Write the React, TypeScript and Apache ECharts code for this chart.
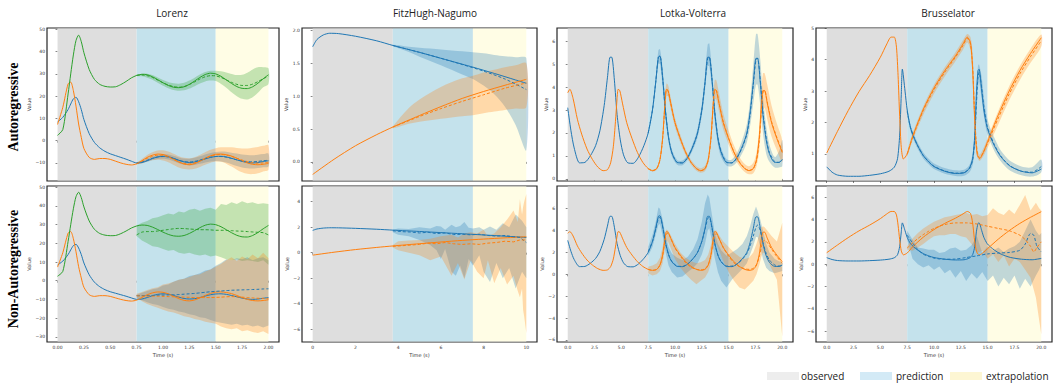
import React, { useEffect, useRef } from "react";
import * as echarts from "echarts";

const BLUE = "#1f77b4";
const ORANGE = "#ff7f0e";
const GREEN = "#2ca02c";
const BAND_BLUE = "rgba(31,119,180,0.28)";
const BAND_ORANGE = "rgba(255,127,14,0.28)";
const BAND_GREEN = "rgba(44,160,44,0.28)";
const REGION_FILL = ["#dedede", "#c4e2ec", "#fffde5"];
const LEGEND_FILL = ["#ededed", "#d3eaf6", "#fdf6d3"];
const LEGEND_TEXT = ["observed", "prediction", "extrapolation"];
const TITLES = ["Lorenz", "FitzHugh-Nagumo", "Lotka-Volterra", "Brusselator"];
const ROW_LABELS = ["Autoregressive", "Non-Autoregressive"];

// ---------------- Lorenz ----------------
const lorRegions = [0, 0.75, 1.5, 2.0];
const lorXTicks = [0, 0.25, 0.5, 0.75, 1.0, 1.25, 1.5, 1.75, 2.0];
const lorTopYTicks = [-10, 0, 10, 20, 30, 40, 50];
const lorBotYTicks = [-30, -20, -10, 0, 10, 20, 30, 40, 50];
const lorT = [0, 0.05, 0.1, 0.125, 0.15, 0.175, 0.2, 0.225, 0.25, 0.3, 0.35, 0.4, 0.45, 0.5, 0.55, 0.6, 0.65, 0.7, 0.75, 0.8, 0.85, 0.9, 0.95, 1.0, 1.05, 1.1, 1.15, 1.2, 1.25, 1.3, 1.35, 1.4, 1.45, 1.5, 1.55, 1.6, 1.65, 1.7, 1.75, 1.8, 1.85, 1.9, 1.95, 2.0];
const lorX = [8.4, 10.5, 14, 16.5, 18.8, 19.5, 17.5, 14, 9.5, 3.2, -0.8, -3.2, -4.8, -5.9, -6.7, -7.5, -8.3, -9.2, -10.0, -9.8, -9.0, -8.0, -7.3, -7.0, -7.2, -7.9, -8.8, -9.5, -9.8, -9.6, -9.0, -8.2, -7.5, -7.1, -7.0, -7.3, -7.9, -8.6, -9.3, -9.8, -10.0, -9.8, -9.4, -9.0];
const lorY = [7.3, 15, 25.5, 26.3, 22.5, 15.5, 7.5, 1.5, -3.5, -7.5, -8.4, -8.0, -8.0, -8.4, -9.2, -10.0, -10.6, -10.9, -10.4, -9.0, -7.5, -6.5, -6.0, -6.2, -7.0, -8.3, -9.6, -10.5, -10.8, -10.3, -9.2, -7.9, -6.8, -6.1, -6.0, -6.3, -6.9, -7.9, -9.0, -10.0, -10.6, -10.8, -10.6, -10.2];
const lorZ = [2.4, 5, 21, 30, 38.5, 45, 47.4, 44.5, 39.5, 32, 27.5, 25.3, 24.4, 24.1, 24.2, 25.2, 26.6, 28.2, 29.3, 29.8, 29.6, 28.7, 27.4, 26.0, 24.8, 24.0, 23.8, 24.2, 25.3, 26.8, 28.4, 29.7, 30.3, 30.0, 28.9, 27.3, 25.7, 24.3, 23.5, 23.4, 24.2, 25.8, 27.8, 29.6];
const lorPT = [0.75, 0.8, 0.85, 0.9, 0.95, 1.0, 1.05, 1.1, 1.15, 1.2, 1.25, 1.3, 1.35, 1.4, 1.45, 1.5, 1.55, 1.6, 1.65, 1.7, 1.75, 1.8, 1.85, 1.9, 1.95, 2.0];
const lorArZ = [29.3, 29.5, 29.2, 28.4, 27.2, 26.0, 25.0, 24.3, 24.0, 24.3, 25.2, 26.4, 27.7, 28.7, 29.2, 29.1, 28.4, 27.3, 26.2, 25.3, 24.8, 24.8, 25.4, 26.5, 27.8, 29.0];
const lorArZLo = [29.0, 28.9, 28.3, 27.4, 26.0, 24.7, 23.6, 22.8, 22.4, 22.6, 23.4, 24.5, 25.7, 26.6, 27.0, 26.8, 25.5, 23.8, 21.8, 20.0, 18.8, 18.5, 19.5, 21.5, 24.0, 25.5];
const lorArZHi = [29.6, 30.1, 30.1, 29.5, 28.4, 27.3, 26.4, 25.8, 25.6, 26.0, 27.0, 28.3, 29.7, 30.8, 31.4, 31.4, 31.2, 30.6, 30.0, 29.5, 29.6, 30.5, 32.0, 33.0, 33.0, 32.5];
const lorArX = [-10.0, -9.6, -8.8, -7.9, -7.3, -7.1, -7.3, -8.0, -8.8, -9.4, -9.6, -9.3, -8.7, -8.0, -7.4, -7.1, -7.1, -7.4, -8.0, -8.6, -9.1, -9.4, -9.5, -9.3, -9.0, -8.8];
const lorArXLo = [-10.3, -10.1, -9.5, -8.7, -8.2, -8.1, -8.4, -9.2, -10.1, -10.8, -11.1, -10.9, -10.4, -9.8, -9.3, -9.1, -9.3, -9.8, -10.6, -11.4, -12.0, -12.4, -12.5, -12.3, -11.9, -11.6];
const lorArXHi = [-9.7, -9.1, -8.1, -7.1, -6.4, -6.1, -6.2, -6.8, -7.5, -8.0, -8.1, -7.7, -7.0, -6.2, -5.5, -5.1, -4.9, -5.0, -5.4, -5.8, -6.2, -6.4, -6.5, -6.3, -6.0, -5.8];
const lorArY = [-10.3, -9.2, -7.9, -7.0, -6.5, -6.6, -7.3, -8.4, -9.5, -10.2, -10.4, -10.0, -9.1, -8.0, -7.0, -6.4, -6.2, -6.5, -7.1, -7.9, -8.7, -9.4, -9.9, -10.1, -10.0, -9.7];
const lorArYLo = [-10.6, -10.2, -9.4, -8.8, -8.6, -8.9, -9.7, -10.9, -12.0, -12.7, -12.9, -12.6, -11.8, -10.8, -9.9, -9.4, -9.5, -10.3, -11.6, -13.0, -14.2, -14.9, -15.0, -14.6, -13.8, -13.0];
const lorArYHi = [-10.0, -8.2, -6.4, -5.2, -4.4, -4.3, -4.9, -5.9, -7.0, -7.7, -7.9, -7.4, -6.4, -5.2, -4.1, -3.4, -3.0, -2.9, -3.0, -3.3, -3.5, -3.5, -3.2, -2.8, -2.3, -2.0];
const lorNarZ = [24.5, 26.0, 26.3, 26.3, 26.6, 27.0, 27.4, 27.8, 28.0, 27.9, 27.7, 27.5, 27.3, 27.3, 27.2, 27.0, 27.0, 26.9, 26.8, 26.6, 26.5, 26.3, 26.1, 25.9, 25.7, 24.5];
const lorNarZHi = [29.5, 31, 32, 33.5, 34, 35, 36, 35.5, 37, 36.5, 38, 38.5, 37.5, 38.5, 39, 38, 41, 40.5, 42, 41, 42.5, 41.5, 42, 41, 41.5, 41];
const lorNarZLo = [24, 21.5, 20, 18.5, 18, 17, 16, 16.5, 15, 14.5, 15, 14, 13.5, 14, 13, 13.5, 12.5, 11.5, 11, 11.5, 10.5, 11, 10.5, 10, 11, 8.5];
const lorNarX = [-8.0, -8.0, -7.9, -7.9, -7.8, -7.7, -7.6, -7.5, -7.4, -7.2, -7.0, -6.8, -6.5, -6.2, -5.9, -5.7, -5.5, -5.3, -5.1, -5.0, -4.9, -4.8, -4.7, -4.6, -4.4, -4.3];
const lorNarXHi = [-7.5, -6.5, -5.5, -4.5, -4.0, -2.5, -2.0, -0.5, 0.5, 1.0, 2.5, 3.0, 4.0, 5.5, 6.0, 8.0, 9.5, 11.5, 11.0, 12.0, 11.5, 12.5, 11.0, 12.0, 12.5, 11.0];
const lorNarXLo = [-9.5, -10.5, -11.5, -12.5, -13.0, -14.0, -15.0, -15.5, -16.5, -17.0, -18.0, -18.5, -19.5, -20.0, -21.0, -22.0, -22.5, -23.0, -23.5, -23.0, -24.0, -23.5, -24.5, -24.0, -25.0, -24.0];
const lorNarY = [-8.0, -8.2, -8.3, -8.3, -8.3, -8.4, -8.5, -8.6, -8.7, -8.8, -8.9, -9.0, -9.0, -9.0, -9.0, -8.9, -8.8, -8.6, -8.5, -8.6, -8.8, -9.0, -9.2, -9.4, -9.5, -9.6];
const lorNarYHi = [-7.0, -6.0, -5.0, -4.0, -3.5, -2.0, -1.5, -0.5, 0.5, 1.0, 2.0, 3.0, 3.5, 5.0, 6.0, 7.5, 9.0, 11.0, 12.5, 10.5, 13.0, 11.5, 14.0, 12.0, 15.0, 12.0];
const lorNarYLo = [-9.0, -11.0, -12.5, -13.5, -14.5, -15.5, -16.5, -17.0, -18.0, -19.0, -19.5, -20.5, -21.0, -22.0, -22.5, -23.0, -24.5, -25.5, -26.0, -25.5, -27.0, -26.5, -27.5, -28.0, -27.0, -28.5];

// ---------------- FitzHugh-Nagumo ----------------
const fhnRegions = [0, 3.75, 7.5, 10];
const fhnXTicks = [0, 2, 4, 6, 8, 10];
const fhnTopYTicks = [0, 0.5, 1.0, 1.5, 2.0];
const fhnBotYTicks = [-6, -4, -2, 0, 2, 4];
const fhnBT = [0, 0.2, 0.5, 0.8, 1.2, 2, 3, 3.75, 5, 6, 7, 7.5, 8.5, 9.5, 10];
const fhnB = [1.75, 1.86, 1.93, 1.955, 1.95, 1.91, 1.84, 1.77, 1.665, 1.575, 1.485, 1.44, 1.345, 1.245, 1.195];
const fhnOT = [0, 1, 2, 3, 3.75, 5, 6, 7, 8, 9, 10];
const fhnO = [-0.19, 0.04, 0.245, 0.415, 0.53, 0.705, 0.84, 0.965, 1.07, 1.165, 1.255];
const fhnPT = [3.75, 5, 6, 7, 8, 9, 10];
const fhnArB = [1.77, 1.665, 1.575, 1.48, 1.38, 1.26, 1.1];
const fhnArO = [0.53, 0.69, 0.81, 0.92, 1.02, 1.12, 1.2];
const fhnArBandT = [3.75, 4.5, 5, 6, 7, 7.5, 8, 8.5, 9, 9.5, 10];
const fhnArBLo = [1.76, 1.67, 1.6, 1.47, 1.33, 1.26, 1.16, 1.03, 0.84, 0.56, 0.18];
const fhnArBHi = [1.78, 1.75, 1.735, 1.71, 1.68, 1.665, 1.65, 1.625, 1.605, 1.59, 1.575];
const fhnArOLo = [0.51, 0.58, 0.61, 0.655, 0.695, 0.71, 0.74, 0.765, 0.79, 0.81, 0.83];
const fhnArOHi = [0.54, 0.82, 0.95, 1.14, 1.27, 1.31, 1.36, 1.4, 1.44, 1.47, 1.5];
const fhnNarPT = [3.75, 4.2, 4.6, 5, 5.4, 5.8, 6.2, 6.6, 7, 7.4, 7.8, 8.2, 8.6, 9, 9.4, 9.7, 10];
const fhnNarB = [1.72, 1.65, 1.62, 1.55, 1.6, 1.5, 1.55, 1.42, 1.45, 1.4, 1.45, 1.35, 1.3, 1.35, 1.25, 1.2, 0.8];
const fhnNarO = [0.5, 0.55, 0.6, 0.65, 0.75, 0.7, 0.8, 0.7, 0.65, 0.7, 0.65, 0.75, 0.8, 0.9, 0.85, 1.0, 1.0];
const fhnNarBBandT = [3.75, 4, 4.5, 5, 5.5, 5.8, 6, 6.2, 6.5, 6.7, 6.9, 7.1, 7.3, 7.5, 7.8, 8, 8.3, 8.6, 8.9, 9.2, 9.5, 9.8, 10];
const fhnNarBHi = [1.8, 1.9, 1.85, 2.0, 1.9, 2.1, 2.05, 1.8, 2.2, 2.0, 2.1, 2.4, 1.95, 1.9, 2.0, 1.8, 2.05, 1.8, 2.3, 2.0, 3.0, 2.5, 2.0];
const fhnNarBLo = [1.6, 1.4, 1.3, 1.0, 0.6, 0.2, -0.5, 0.3, -1.5, -1.8, -1.0, -2.0, -0.5, -1.0, -0.2, -1.5, -2.3, -0.8, -2.0, -1.2, -2.8, -1.5, -2.0];
const fhnNarOBandT = [3.75, 4, 4.5, 5, 5.5, 6, 6.5, 6.8, 7.1, 7.4, 7.7, 8.0, 8.2, 8.5, 8.8, 9.1, 9.4, 9.6, 9.7, 9.8, 9.85, 9.9, 10];
const fhnNarOHi = [0.6, 0.9, 0.95, 1.0, 1.1, 1.3, 1.4, 1.2, 1.5, 1.6, 1.5, 1.8, 1.3, 1.5, 2.0, 2.6, 3.3, 2.4, 4.2, 3.0, 3.6, 4.0, 4.6];
const fhnNarOLo = [0.4, 0.2, 0.0, -0.2, -0.6, -0.3, -1.8, -0.8, -2.1, -0.6, -1.5, -2.0, -0.6, -2.4, -1.2, -2.5, -1.8, -3.0, -3.5, -2.8, -4.5, -5.0, -6.3];

// ---------------- Lotka-Volterra ----------------
const lvRegions = [0, 7.5, 15, 20];
const lvXTicks = [0, 2.5, 5, 7.5, 10, 12.5, 15, 17.5, 20];
const lvTopYTicks = [0, 1, 2, 3, 4, 5, 6];
const lvBotYTicks = [-6, -4, -2, 0, 2, 4, 6];
const lvTB = [0, 0.3, 0.6, 1.1, 1.6, 2.1, 2.6, 3.0, 3.4, 3.7, 3.95, 4.1, 4.35, 4.6, 4.9, 5.2, 5.6, 6.1, 6.6, 7.1, 7.5, 7.9, 8.2, 8.45, 8.6, 8.85, 9.1, 9.4, 9.7, 10.2, 10.7, 11.2, 11.7, 12.1, 12.5, 12.8, 13.05, 13.2, 13.45, 13.7, 14.0, 14.3, 14.8, 15.3, 15.8, 16.3, 16.7, 17.0, 17.3, 17.55, 17.7, 17.95, 18.2, 18.5, 18.8, 19.3, 19.7, 20];
const lvB = [3.1, 2.1, 1.35, 0.7, 0.72, 1.0, 1.45, 2.1, 3.2, 4.4, 5.3, 5.3, 4.3, 2.8, 1.7, 1.05, 0.7, 0.68, 0.95, 1.45, 2.0, 3.0, 4.2, 5.3, 5.35, 4.4, 3.0, 1.8, 1.15, 0.72, 0.7, 0.95, 1.45, 2.0, 3.0, 4.2, 5.3, 5.3, 4.3, 2.9, 1.75, 1.15, 0.72, 0.7, 0.95, 1.45, 2.0, 2.9, 4.2, 5.25, 5.25, 4.2, 2.8, 1.7, 1.1, 0.72, 0.72, 0.85];
const lvPTB = [7.5, 7.9, 8.2, 8.45, 8.6, 8.85, 9.1, 9.4, 9.7, 10.2, 10.7, 11.2, 11.7, 12.1, 12.5, 12.8, 13.05, 13.2, 13.45, 13.7, 14.0, 14.3, 14.8, 15.3, 15.8, 16.3, 16.7, 17.0, 17.3, 17.55, 17.7, 17.95, 18.2, 18.5, 18.8, 19.3, 19.7, 20];
const lvArB = [2.0, 3.0, 4.2, 5.3, 5.35, 4.4, 3.0, 1.8, 1.15, 0.72, 0.7, 0.95, 1.45, 2.0, 3.0, 4.2, 5.25, 5.3, 4.35, 2.95, 1.8, 1.2, 0.73, 0.7, 0.93, 1.4, 1.95, 2.8, 4.1, 5.2, 5.25, 4.3, 2.9, 1.8, 1.15, 0.75, 0.72, 0.82];
const lvArBLo = [1.95, 2.9, 4.0, 5.0, 5.0, 4.0, 2.7, 1.6, 1.0, 0.62, 0.6, 0.85, 1.3, 1.8, 2.75, 3.85, 4.9, 4.9, 3.9, 2.55, 1.5, 0.95, 0.58, 0.55, 0.75, 1.15, 1.6, 2.3, 3.3, 4.1, 4.1, 3.2, 2.0, 1.1, 0.75, 0.5, 0.5, 0.55];
const lvArBHi = [2.05, 3.1, 4.4, 5.6, 5.65, 4.8, 3.3, 2.0, 1.3, 0.82, 0.8, 1.05, 1.6, 2.2, 3.25, 4.55, 5.85, 5.9, 4.7, 3.25, 2.0, 1.35, 0.86, 0.85, 1.15, 1.75, 2.4, 3.4, 5.0, 6.3, 6.3, 5.2, 3.6, 2.3, 1.5, 0.95, 1.2, 1.7];
const lvNarB = [2.1, 3.0, 4.1, 5.1, 5.2, 4.3, 2.9, 1.8, 1.2, 0.75, 0.72, 0.95, 1.45, 2.0, 3.0, 4.1, 5.1, 5.2, 4.2, 2.8, 1.75, 1.15, 0.75, 0.75, 0.95, 1.4, 1.9, 2.6, 3.5, 4.3, 4.5, 4.0, 2.9, 1.9, 1.3, 0.85, 0.75, 0.8];
const lvNarBLo = [1.7, 2.5, 3.6, 4.5, 4.6, 3.5, 2.1, 0.8, 0.2, -0.3, -0.2, 0.2, 0.6, 1.0, 1.8, 2.8, 4.0, 4.2, 3.0, 1.5, 0.2, -0.6, -1.2, -0.5, 0.0, 0.5, 1.0, 1.8, 2.6, 3.4, 3.4, 2.5, 1.4, 0.6, 0.3, 0.1, 0.2, 0.3];
const lvNarBHi = [2.5, 3.6, 4.8, 6.1, 6.0, 5.0, 3.6, 2.5, 1.9, 1.5, 1.3, 1.6, 2.3, 3.2, 4.8, 6.5, 7.3, 7.0, 5.4, 3.8, 2.8, 2.2, 1.7, 2.0, 2.3, 2.8, 3.5, 4.4, 5.5, 6.2, 5.8, 5.0, 4.0, 2.8, 2.0, 1.4, 1.2, 1.1];
const lvTO = [0, 0.2, 0.5, 0.9, 1.3, 1.8, 2.3, 2.8, 3.3, 3.7, 4.0, 4.25, 4.45, 4.6, 4.7, 4.85, 5.1, 5.5, 6.0, 6.5, 7.0, 7.5, 7.9, 8.3, 8.6, 8.85, 9.05, 9.2, 9.35, 9.6, 10.0, 10.5, 11.0, 11.5, 12.0, 12.4, 12.8, 13.1, 13.35, 13.55, 13.7, 13.85, 14.1, 14.5, 15.0, 15.5, 16.0, 16.5, 16.9, 17.3, 17.6, 17.85, 18.05, 18.2, 18.35, 18.6, 19.0, 19.5, 20];
const lvO = [3.75, 3.9, 3.5, 2.6, 1.95, 1.3, 0.85, 0.52, 0.36, 0.4, 0.7, 1.4, 2.5, 3.5, 3.9, 3.85, 3.3, 2.45, 1.75, 1.15, 0.72, 0.45, 0.36, 0.45, 0.85, 1.8, 3.2, 3.9, 3.85, 3.3, 2.45, 1.75, 1.15, 0.72, 0.45, 0.36, 0.45, 0.85, 1.8, 3.2, 3.9, 3.85, 3.3, 2.45, 1.75, 1.15, 0.72, 0.45, 0.36, 0.45, 0.85, 1.8, 3.2, 3.85, 3.85, 3.3, 2.45, 1.75, 1.15];
const lvPTO = [7.5, 7.9, 8.3, 8.6, 8.85, 9.05, 9.2, 9.35, 9.6, 10.0, 10.5, 11.0, 11.5, 12.0, 12.4, 12.8, 13.1, 13.35, 13.55, 13.7, 13.85, 14.1, 14.5, 15.0, 15.5, 16.0, 16.5, 16.9, 17.3, 17.6, 17.85, 18.05, 18.2, 18.35, 18.6, 19.0, 19.5, 20];
const lvArO = [0.45, 0.36, 0.45, 0.83, 1.75, 3.15, 3.88, 3.85, 3.3, 2.45, 1.75, 1.15, 0.72, 0.45, 0.36, 0.45, 0.82, 1.72, 3.1, 3.85, 3.85, 3.32, 2.48, 1.78, 1.17, 0.74, 0.46, 0.37, 0.45, 0.8, 1.65, 3.0, 3.75, 3.85, 3.35, 2.5, 1.8, 1.2];
const lvArOLo = [0.42, 0.32, 0.4, 0.75, 1.6, 2.9, 3.6, 3.6, 3.05, 2.25, 1.58, 1.02, 0.62, 0.36, 0.27, 0.34, 0.68, 1.5, 2.8, 3.45, 3.45, 2.95, 2.15, 1.5, 0.95, 0.56, 0.3, 0.2, 0.25, 0.55, 1.2, 2.4, 3.0, 3.1, 2.6, 1.85, 1.25, 0.75];
const lvArOHi = [0.48, 0.4, 0.5, 0.92, 1.95, 3.45, 4.15, 4.1, 3.55, 2.65, 1.92, 1.28, 0.82, 0.55, 0.46, 0.58, 1.0, 2.0, 3.5, 4.3, 4.3, 3.75, 2.85, 2.1, 1.45, 0.95, 0.65, 0.55, 0.7, 1.15, 2.2, 3.8, 4.6, 4.6, 4.1, 3.2, 2.4, 1.65];
const lvNarO = [0.45, 0.36, 0.45, 0.85, 1.7, 3.0, 3.7, 3.75, 3.3, 2.4, 1.65, 1.05, 0.65, 0.45, 0.4, 0.5, 0.9, 1.7, 2.9, 3.6, 3.7, 3.3, 2.45, 1.65, 1.05, 0.7, 0.5, 0.45, 0.55, 0.9, 1.6, 2.5, 3.0, 3.1, 2.9, 2.3, 1.6, 1.0];
const lvNarOLo = [0.1, -0.1, 0.0, 0.3, 1.0, 2.2, 3.0, 3.0, 2.4, 1.4, 0.6, 0.0, -0.5, -0.9, -0.6, -0.3, 0.2, 1.0, 2.2, 2.9, 2.8, 2.2, 1.2, 0.2, -0.6, -1.2, -1.4, -1.0, -0.6, 0.0, 0.8, 1.6, 2.0, 1.9, 1.4, 0.5, -0.5, -5.7];
const lvNarOHi = [0.7, 0.8, 1.0, 1.5, 2.5, 3.7, 4.1, 4.0, 3.6, 2.8, 2.0, 1.5, 1.2, 1.0, 1.1, 1.3, 1.8, 2.7, 3.6, 4.0, 4.0, 3.6, 3.0, 2.5, 2.0, 1.6, 1.4, 1.5, 2.0, 2.8, 3.6, 4.3, 4.4, 4.3, 4.0, 3.5, 3.0, 4.7];

// ---------------- Brusselator ----------------
const brRegions = [0, 7.5, 15, 20];
const brXTicks = [0, 2.5, 5, 7.5, 10, 12.5, 15, 17.5, 20];
const brTopYTicks = [1, 2, 3, 4, 5];
const brBotYTicks = [-6, -4, -2, 0, 2, 4, 6];
const brTB = [0, 0.5, 1, 2, 3, 4, 5, 5.8, 6.3, 6.6, 6.8, 6.95, 7.05, 7.3, 7.5, 7.8, 8.1, 8.5, 9, 9.5, 10, 11, 12, 12.8, 13.3, 13.6, 13.8, 13.95, 14.1, 14.2, 14.45, 14.65, 14.95, 15.25, 15.65, 16.15, 16.65, 17.15, 18.15, 19.15, 20];
const brB = [0.59, 0.42, 0.33, 0.29, 0.29, 0.32, 0.37, 0.45, 0.58, 0.85, 1.6, 2.9, 3.7, 3.0, 2.4, 1.85, 1.55, 1.25, 0.95, 0.75, 0.6, 0.45, 0.38, 0.4, 0.55, 0.85, 1.6, 2.9, 3.65, 3.7, 3.0, 2.4, 1.85, 1.55, 1.25, 0.95, 0.75, 0.6, 0.45, 0.4, 0.52];
const brPTB = [7.5, 7.8, 8.1, 8.5, 9, 9.5, 10, 11, 12, 12.8, 13.3, 13.6, 13.8, 13.95, 14.1, 14.2, 14.45, 14.65, 14.95, 15.25, 15.65, 16.15, 16.65, 17.15, 18.15, 19.15, 20];
const brArB = [2.35, 1.85, 1.55, 1.25, 0.95, 0.76, 0.61, 0.46, 0.39, 0.41, 0.53, 0.8, 1.45, 2.6, 3.45, 3.6, 3.1, 2.5, 1.9, 1.6, 1.28, 0.97, 0.76, 0.61, 0.45, 0.42, 0.6];
const brArBLo = [2.25, 1.75, 1.45, 1.15, 0.86, 0.67, 0.52, 0.37, 0.3, 0.31, 0.42, 0.65, 1.2, 2.2, 3.1, 3.3, 2.75, 2.2, 1.65, 1.38, 1.08, 0.8, 0.6, 0.46, 0.32, 0.28, 0.42];
const brArBHi = [2.45, 1.95, 1.65, 1.35, 1.05, 0.85, 0.7, 0.55, 0.48, 0.5, 0.65, 1.0, 1.75, 3.0, 3.8, 3.85, 3.45, 2.8, 2.15, 1.82, 1.5, 1.15, 0.93, 0.77, 0.6, 0.58, 0.82];
const brTO = [0, 1, 2, 3, 4, 5, 5.6, 6.0, 6.3, 6.5, 6.65, 6.8, 6.95, 7.15, 7.5, 8, 9, 10, 11, 12, 12.7, 13.1, 13.4, 13.6, 13.75, 13.9, 14.05, 14.25, 14.6, 15, 16, 17, 18, 19, 20];
const brO = [1.03, 1.72, 2.38, 2.98, 3.5, 4.08, 4.5, 4.72, 4.72, 4.4, 3.5, 2.2, 1.2, 0.84, 1.0, 1.55, 2.42, 3.1, 3.65, 4.12, 4.5, 4.72, 4.55, 3.7, 2.4, 1.4, 0.95, 0.85, 1.05, 1.4, 2.25, 3.0, 3.65, 4.2, 4.7];
const brPTO = [7.5, 8, 9, 10, 11, 12, 12.7, 13.1, 13.4, 13.6, 13.75, 13.9, 14.05, 14.25, 14.6, 15, 16, 17, 18, 19, 20];
const brArO = [1.0, 1.52, 2.38, 3.05, 3.6, 4.08, 4.45, 4.68, 4.5, 3.8, 2.6, 1.55, 1.02, 0.88, 1.05, 1.35, 2.15, 2.9, 3.55, 4.1, 4.6];
const brArOLo = [0.92, 1.42, 2.25, 2.92, 3.47, 3.95, 4.32, 4.55, 4.3, 3.4, 2.2, 1.25, 0.88, 0.78, 0.93, 1.2, 1.95, 2.7, 3.35, 3.9, 4.42];
const brArOHi = [1.08, 1.65, 2.52, 3.2, 3.76, 4.24, 4.62, 4.82, 4.72, 4.2, 3.0, 1.85, 1.15, 0.98, 1.18, 1.52, 2.38, 3.15, 3.8, 4.35, 4.8];
const brNarPT = [7.5, 8, 8.5, 9, 9.5, 10, 10.5, 11, 12, 13, 14, 15, 16, 17, 18, 18.5, 19, 19.3, 19.6, 20];
const brNarB = [2.6, 1.9, 1.3, 0.9, 0.7, 0.55, 0.47, 0.45, 0.46, 0.6, 0.75, 0.92, 1.0, 1.05, 1.25, 1.8, 2.75, 2.6, 1.6, 1.1];
const brNarO = [1.45, 1.9, 2.3, 2.65, 2.95, 3.2, 3.4, 3.55, 3.7, 3.7, 3.6, 3.4, 3.2, 3.0, 2.6, 2.2, 1.6, 1.1, 1.5, 2.0];
const brNarBandT = [7.5, 8, 8.5, 9, 9.5, 10, 10.5, 11, 11.5, 12, 12.5, 13, 13.5, 14, 14.5, 15, 15.5, 16, 16.5, 17, 17.5, 18, 18.5, 19, 19.5, 19.8, 20];
const brNarOHi = [1.6, 2.3, 2.8, 3.2, 3.5, 3.8, 4.0, 4.2, 4.3, 4.4, 4.5, 4.6, 4.4, 4.5, 4.3, 4.4, 5.0, 4.6, 4.4, 4.9, 4.5, 5.3, 6.2, 4.8, 5.5, 5.0, 4.8];
const brNarOLo = [1.3, 1.2, 1.5, 1.8, 2.2, 2.5, 2.6, 2.6, 2.7, 2.7, 2.5, 2.4, 1.8, 1.0, 1.2, 0.5, 0.9, 0.2, 0.8, -0.2, 0.5, 0.2, -0.5, -1.2, -3.0, -5.0, -6.3];
const brNarBHi = [3.0, 2.2, 1.5, 1.4, 1.3, 1.3, 1.0, 1.1, 1.4, 1.5, 1.2, 1.3, 1.7, 2.5, 1.0, 1.6, 1.2, 1.5, 1.1, 1.4, 1.6, 2.0, 3.0, 4.0, 3.0, 2.6, 2.8];
const brNarBLo = [2.2, 0.5, 0.0, -0.3, -0.1, -0.5, -0.2, -0.8, -0.5, -1.2, -0.6, -1.5, -0.8, -1.3, -0.7, -1.5, -1.0, -2.0, -1.2, -1.8, -1.0, -2.2, -1.3, -2.0, -1.0, -0.5, 0.0];

type Line = { t: number[]; v: number[]; color: string; dashed?: boolean; smooth?: number };
type Band = { t: number[]; lo: number[]; hi: number[]; color: string; smooth?: number };
type Panel = {
  left: number; top: number; width: number; height: number;
  xMin: number; xMax: number; yMin: number; yMax: number;
  xTicks: number[]; yTicks: number[]; xDec: number; yDec: number;
  bottom: boolean; regions: number[]; nameGap: number;
  lines: Line[]; bands: Band[];
};

const TOP_Y = 28, TOP_H = 153, BOT_Y = 186, BOT_H = 156;
const COLS = [
  { left: 47, width: 232 },
  { left: 302, width: 235 },
  { left: 557, width: 236 },
  { left: 816, width: 236 },
];

const panels: Panel[] = [
  {
    ...COLS[0], top: TOP_Y, height: TOP_H, xMin: -0.1, xMax: 2.1, yMin: -18.1, yMax: 50.6,
    xTicks: lorXTicks, yTicks: lorTopYTicks, xDec: 2, yDec: 0, bottom: false, regions: lorRegions, nameGap: 15,
    bands: [
      { t: lorPT, lo: lorArZLo, hi: lorArZHi, color: BAND_GREEN, smooth: 0.3 },
      { t: lorPT, lo: lorArXLo, hi: lorArXHi, color: BAND_BLUE, smooth: 0.3 },
      { t: lorPT, lo: lorArYLo, hi: lorArYHi, color: BAND_ORANGE, smooth: 0.3 },
    ],
    lines: [
      { t: lorT, v: lorX, color: BLUE }, { t: lorT, v: lorY, color: ORANGE }, { t: lorT, v: lorZ, color: GREEN },
      { t: lorPT, v: lorArX, color: BLUE, dashed: true }, { t: lorPT, v: lorArY, color: ORANGE, dashed: true },
      { t: lorPT, v: lorArZ, color: GREEN, dashed: true },
    ],
  },
  {
    ...COLS[0], top: BOT_Y, height: BOT_H, xMin: -0.1, xMax: 2.1, yMin: -32.8, yMax: 50.7,
    xTicks: lorXTicks, yTicks: lorBotYTicks, xDec: 2, yDec: 0, bottom: true, regions: lorRegions, nameGap: 14,
    bands: [
      { t: lorPT, lo: lorNarZLo, hi: lorNarZHi, color: BAND_GREEN },
      { t: lorPT, lo: lorNarXLo, hi: lorNarXHi, color: BAND_BLUE },
      { t: lorPT, lo: lorNarYLo, hi: lorNarYHi, color: BAND_ORANGE },
    ],
    lines: [
      { t: lorT, v: lorX, color: BLUE }, { t: lorT, v: lorY, color: ORANGE }, { t: lorT, v: lorZ, color: GREEN },
      { t: lorPT, v: lorNarX, color: BLUE, dashed: true }, { t: lorPT, v: lorNarY, color: ORANGE, dashed: true },
      { t: lorPT, v: lorNarZ, color: GREEN, dashed: true },
    ],
  },
  {
    ...COLS[1], top: TOP_Y, height: TOP_H, xMin: -0.5, xMax: 10.5, yMin: -0.29, yMax: 2.035,
    xTicks: fhnXTicks, yTicks: fhnTopYTicks, xDec: 0, yDec: 1, bottom: false, regions: fhnRegions, nameGap: 11,
    bands: [
      { t: fhnArBandT, lo: fhnArBLo, hi: fhnArBHi, color: BAND_BLUE, smooth: 0.3 },
      { t: fhnArBandT, lo: fhnArOLo, hi: fhnArOHi, color: BAND_ORANGE, smooth: 0.3 },
    ],
    lines: [
      { t: fhnBT, v: fhnB, color: BLUE }, { t: fhnOT, v: fhnO, color: ORANGE },
      { t: fhnPT, v: fhnArB, color: BLUE, dashed: true }, { t: fhnPT, v: fhnArO, color: ORANGE, dashed: true },
    ],
  },
  {
    ...COLS[1], top: BOT_Y, height: BOT_H, xMin: -0.5, xMax: 10.5, yMin: -7.0, yMax: 5.23,
    xTicks: fhnXTicks, yTicks: fhnBotYTicks, xDec: 0, yDec: 0, bottom: true, regions: fhnRegions, nameGap: 11,
    bands: [
      { t: fhnNarBBandT, lo: fhnNarBLo, hi: fhnNarBHi, color: BAND_BLUE },
      { t: fhnNarOBandT, lo: fhnNarOLo, hi: fhnNarOHi, color: BAND_ORANGE },
    ],
    lines: [
      { t: fhnBT, v: fhnB, color: BLUE }, { t: fhnOT, v: fhnO, color: ORANGE },
      { t: fhnNarPT, v: fhnNarB, color: BLUE, dashed: true, smooth: 0 }, { t: fhnNarPT, v: fhnNarO, color: ORANGE, dashed: true, smooth: 0 },
    ],
  },
  {
    ...COLS[2], top: TOP_Y, height: TOP_H, xMin: -1, xMax: 21, yMin: -0.09, yMax: 6.57,
    xTicks: lvXTicks, yTicks: lvTopYTicks, xDec: 1, yDec: 0, bottom: false, regions: lvRegions, nameGap: 6,
    bands: [
      { t: lvPTB, lo: lvArBLo, hi: lvArBHi, color: BAND_BLUE, smooth: 0.3 },
      { t: lvPTO, lo: lvArOLo, hi: lvArOHi, color: BAND_ORANGE, smooth: 0.3 },
    ],
    lines: [
      { t: lvTB, v: lvB, color: BLUE }, { t: lvTO, v: lvO, color: ORANGE },
      { t: lvPTB, v: lvArB, color: BLUE, dashed: true }, { t: lvPTO, v: lvArO, color: ORANGE, dashed: true },
    ],
  },
  {
    ...COLS[2], top: BOT_Y, height: BOT_H, xMin: -1, xMax: 21, yMin: -6.19, yMax: 8.07,
    xTicks: lvXTicks, yTicks: lvBotYTicks, xDec: 1, yDec: 0, bottom: true, regions: lvRegions, nameGap: 10,
    bands: [
      { t: lvPTB, lo: lvNarBLo, hi: lvNarBHi, color: BAND_BLUE },
      { t: lvPTO, lo: lvNarOLo, hi: lvNarOHi, color: BAND_ORANGE },
    ],
    lines: [
      { t: lvTB, v: lvB, color: BLUE }, { t: lvTO, v: lvO, color: ORANGE },
      { t: lvPTB, v: lvNarB, color: BLUE, dashed: true }, { t: lvPTO, v: lvNarO, color: ORANGE, dashed: true },
    ],
  },
  {
    ...COLS[3], top: TOP_Y, height: TOP_H, xMin: -1, xMax: 21, yMin: 0.14, yMax: 5.01,
    xTicks: brXTicks, yTicks: brTopYTicks, xDec: 1, yDec: 0, bottom: false, regions: brRegions, nameGap: 8,
    bands: [
      { t: brPTB, lo: brArBLo, hi: brArBHi, color: BAND_BLUE, smooth: 0.3 },
      { t: brPTO, lo: brArOLo, hi: brArOHi, color: BAND_ORANGE, smooth: 0.3 },
    ],
    lines: [
      { t: brTB, v: brB, color: BLUE }, { t: brTO, v: brO, color: ORANGE },
      { t: brPTB, v: brArB, color: BLUE, dashed: true }, { t: brPTO, v: brArO, color: ORANGE, dashed: true },
    ],
  },
  {
    ...COLS[3], top: BOT_Y, height: BOT_H, xMin: -1, xMax: 21, yMin: -6.96, yMax: 7.0,
    xTicks: brXTicks, yTicks: brBotYTicks, xDec: 1, yDec: 0, bottom: true, regions: brRegions, nameGap: 10,
    bands: [
      { t: brNarBandT, lo: brNarBLo, hi: brNarBHi, color: BAND_BLUE },
      { t: brNarBandT, lo: brNarOLo, hi: brNarOHi, color: BAND_ORANGE },
    ],
    lines: [
      { t: brTB, v: brB, color: BLUE }, { t: brTO, v: brO, color: ORANGE },
      { t: brNarPT, v: brNarB, color: BLUE, dashed: true }, { t: brNarPT, v: brNarO, color: ORANGE, dashed: true },
    ],
  },
];

function fmt(v: number, d: number) {
  const s = Math.abs(v).toFixed(d);
  return v < 0 ? "\u2212" + s : s;
}

const TICK_FONT = "'DejaVu Sans', sans-serif";

function buildOption() {
  const grid: any[] = [];
  const xAxis: any[] = [];
  const yAxis: any[] = [];
  const series: any[] = [];
  panels.forEach((p, i) => {
    grid.push({
      left: p.left, top: p.top, width: p.width, height: p.height,
      show: true, borderColor: "#262626", borderWidth: 1.2, backgroundColor: "#ffffff",
    });
    xAxis.push({
      type: "value", gridIndex: i, min: p.xMin, max: p.xMax,
      axisLine: { show: false }, splitLine: { show: false },
      axisTick: { show: true, length: 2, lineStyle: { color: "#333", width: 0.6 }, customValues: p.xTicks },
      axisLabel: {
        show: p.bottom, fontSize: 4.5, color: "#333", margin: 2.5, fontFamily: TICK_FONT,
        customValues: p.xTicks, formatter: (v: number) => fmt(v, p.xDec),
      },
      name: p.bottom ? "Time (s)" : "", nameLocation: "middle", nameGap: 10,
      nameTextStyle: { fontSize: 5, color: "#333", fontFamily: TICK_FONT },
    });
    yAxis.push({
      type: "value", gridIndex: i, min: p.yMin, max: p.yMax,
      axisLine: { show: false }, splitLine: { show: false },
      axisTick: { show: true, length: 2, lineStyle: { color: "#333", width: 0.6 }, customValues: p.yTicks },
      axisLabel: {
        fontSize: 4.5, color: "#333", margin: 2, fontFamily: TICK_FONT,
        customValues: p.yTicks, formatter: (v: number) => fmt(v, p.yDec),
      },
      name: "Value", nameLocation: "middle", nameGap: p.nameGap, nameRotate: 90,
      nameTextStyle: { fontSize: 5, color: "#333", fontFamily: TICK_FONT },
    });
    // background regions
    series.push({
      type: "custom", xAxisIndex: i, yAxisIndex: i, z: 1, silent: true,
      data: [[p.regions[0], p.yMin]],
      renderItem: (params: any, api: any) => {
        const cs = params.coordSys;
        const children: any[] = [];
        for (let k = 0; k < 3; k++) {
          const x0 = api.coord([p.regions[k], p.yMin])[0];
          const x1 = api.coord([p.regions[k + 1], p.yMin])[0];
          children.push({
            type: "rect",
            shape: { x: x0, y: cs.y + 0.6, width: x1 - x0, height: cs.height - 1.2 },
            style: { fill: REGION_FILL[k] },
          });
        }
        return { type: "group", children };
      },
    });
    p.bands.forEach((b) => {
      series.push({
        type: "custom", xAxisIndex: i, yAxisIndex: i, z: 2, silent: true,
        data: [[b.t[0], b.lo[0]]],
        clip: true,
        renderItem: (params: any, api: any) => {
          const pts: number[][] = [];
          for (let k = 0; k < b.t.length; k++) pts.push(api.coord([b.t[k], b.hi[k]]));
          for (let k = b.t.length - 1; k >= 0; k--) pts.push(api.coord([b.t[k], b.lo[k]]));
          return {
            type: "polygon",
            shape: { points: pts, smooth: b.smooth || 0 },
            style: { fill: b.color },
          };
        },
      });
    });
    p.lines.forEach((l) => {
      series.push({
        type: "line", xAxisIndex: i, yAxisIndex: i, silent: true,
        data: l.t.map((t, k) => [t, l.v[k]]),
        showSymbol: false, symbol: "none",
        smooth: l.smooth !== undefined ? l.smooth : 0.25,
        lineStyle: { color: l.color, width: 1, type: l.dashed ? [3, 2] : "solid" },
        z: l.dashed ? 4 : 3, clip: true,
      });
    });
  });

  const titleX = [172, 435, 693, 948];
  const graphic: any[] = [];
  TITLES.forEach((t, k) => {
    graphic.push({
      type: "text", x: titleX[k], y: 13,
      style: { text: t, fontSize: 10, fontFamily: "'Open Sans', sans-serif", fill: "#222", align: "center", verticalAlign: "middle" },
    });
  });
  const rowY = [107, 269];
  ROW_LABELS.forEach((t, k) => {
    graphic.push({
      type: "text", x: 13, y: rowY[k], rotation: Math.PI / 2,
      style: { text: t, fontSize: 14, fontWeight: "bold", fontFamily: "'Liberation Serif', 'DejaVu Serif', serif", fill: "#000", align: "center", verticalAlign: "middle" },
    });
  });
  const boxX = [767, 860, 950];
  const textX = [801, 896, 986];
  LEGEND_TEXT.forEach((t, k) => {
    graphic.push({
      type: "rect", shape: { x: boxX[k], y: 372, width: 32, height: 8 }, style: { fill: LEGEND_FILL[k] },
    });
    graphic.push({
      type: "text", x: textX[k], y: 376,
      style: { text: t, fontSize: 10, fontFamily: "'Open Sans', sans-serif", fill: "#222", align: "left", verticalAlign: "middle" },
    });
  });

  return { animation: false, grid, xAxis, yAxis, series, graphic };
}

export default function App() {
  const ref = useRef<HTMLDivElement>(null);
  useEffect(() => {
    if (!ref.current) return;
    const chart = echarts.init(ref.current, undefined, { renderer: "svg" });
    chart.setOption(buildOption());
    return () => chart.dispose();
  }, []);
  return (
    <div
      ref={ref}
      style={{ position: "fixed", left: 0, top: 0, width: 1054, height: 384, background: "#fff" }}
    />
  );
}
